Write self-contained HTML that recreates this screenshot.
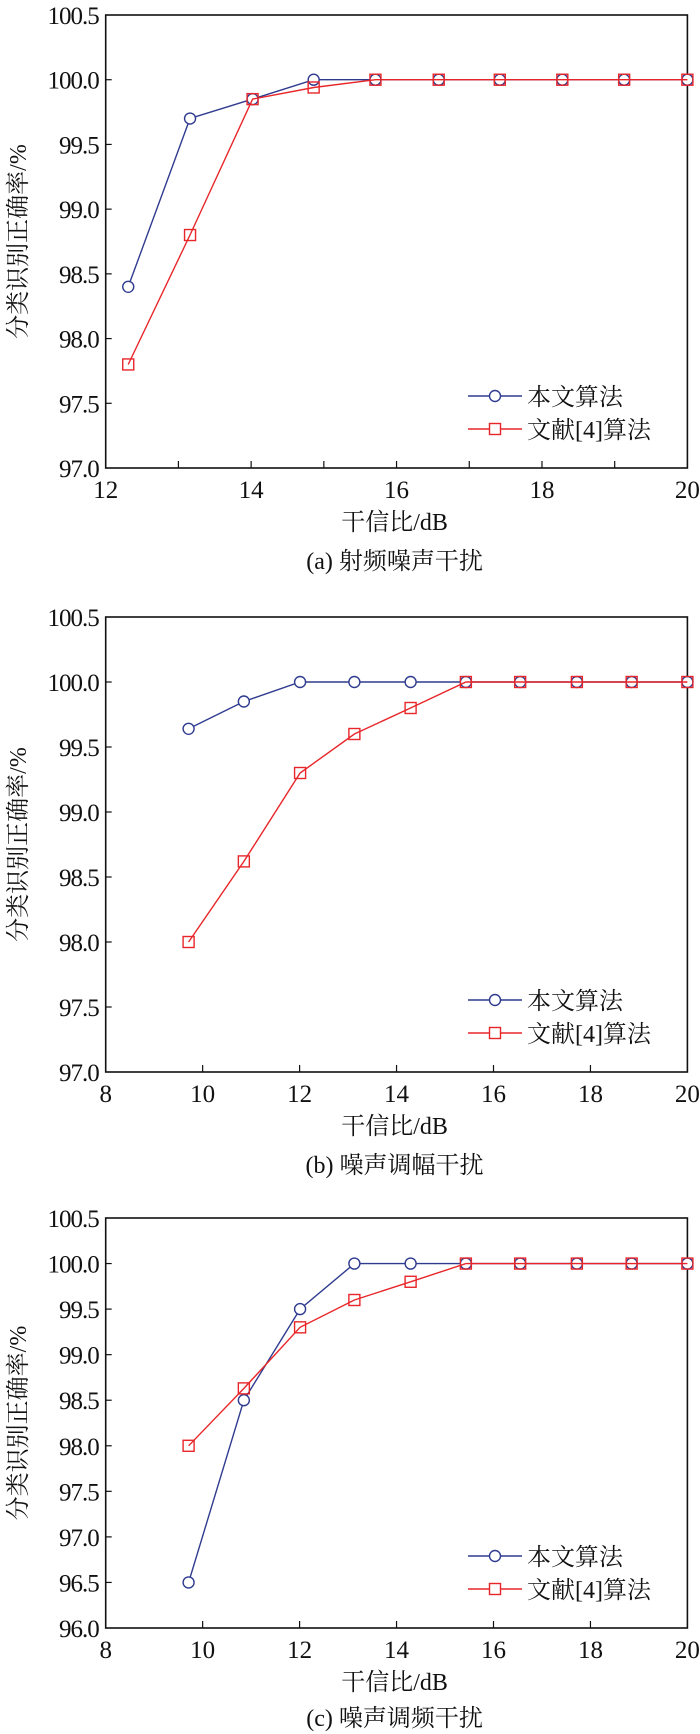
<!DOCTYPE html>
<html><head><meta charset="utf-8"><style>
html,body{margin:0;padding:0;background:#fff;}
svg{display:block;}
text{font-family:"Liberation Serif","Noto Serif CJK SC","Noto Sans CJK SC",serif;fill:#111;}
</style></head><body>
<svg id="fig" width="700" height="1734" viewBox="0 0 700 1734" xmlns="http://www.w3.org/2000/svg"></svg>
<script>
// Chart (a) data
const xA = [12.31, 13.16, 14.02, 14.86, 15.71, 16.58, 17.42, 18.28, 19.13, 20];
const blueA = [98.4, 99.7, 99.85, 100, 100, 100, 100, 100, 100, 100];
const redA = [97.8, 98.8, 99.85, 99.94, 100, 100, 100, 100, 100, 100];
const xTicksA = [12, 14, 16, 18, 20];
const yTicksA = [97.0, 97.5, 98.0, 98.5, 99.0, 99.5, 100.0, 100.5];
// Chart (b) data
const xB = [9.71, 10.85, 12.01, 13.13, 14.29, 15.43, 16.55, 17.72, 18.85, 20];
const blueB = [99.64, 99.85, 100, 100, 100, 100, 100, 100, 100, 100];
const redB = [98.0, 98.62, 99.3, 99.6, 99.8, 100, 100, 100, 100, 100];
const xTicksB = [8, 10, 12, 14, 16, 18, 20];
const yTicksB = [97.0, 97.5, 98.0, 98.5, 99.0, 99.5, 100.0, 100.5];
// Chart (c) data
const xC = [9.71, 10.85, 12.01, 13.13, 14.29, 15.43, 16.55, 17.72, 18.85, 20];
const blueC = [96.5, 98.5, 99.5, 100, 100, 100, 100, 100, 100, 100];
const redC = [98.0, 98.63, 99.3, 99.6, 99.8, 100, 100, 100, 100, 100];
const xTicksC = [8, 10, 12, 14, 16, 18, 20];
const yTicksC = [96.0, 96.5, 97.0, 97.5, 98.0, 98.5, 99.0, 99.5, 100.0, 100.5];
const seriesNames = ["本文算法", "文献[4]算法"];
const captions = ["(a) 射频噪声干扰", "(b) 噪声调幅干扰", "(c) 噪声调频干扰"];

const NS = "http://www.w3.org/2000/svg";
const svg = document.getElementById("fig");
const BLUE = "#2f3b8f", RED = "#e8262a";
function mk(tag, attrs, parent) {
  const e = document.createElementNS(NS, tag);
  for (const k in attrs) e.setAttribute(k, attrs[k]);
  (parent || svg).appendChild(e);
  return e;
}
function chart(id, top, bottom, xs, blue, red, xTicks, yTicks, minorX, caption) {
  const L = 105.7, R = 687.4;
  const g = mk("g", {});
  
  
  const xMin = xTicks[0], xMax = xTicks[xTicks.length - 1];
  const yMin = yTicks[0], yMax = yTicks[yTicks.length - 1];
  const sx = v => L + (v - xMin) / (xMax - xMin) * (R - L);
  const sy = v => bottom - (v - yMin) / (yMax - yMin) * (bottom - top);
  const fr = mk("rect", {x: L, y: top, width: R - L, height: bottom - top, fill: "none", stroke: "#111", "stroke-width": 1.6}, g);
  
  
  const step = minorX ? 1 : 2;
  for (let v = xMin + step; v < xMax; v += step) {
    mk("line", {x1: sx(v), x2: sx(v), y1: bottom, y2: bottom - 7, stroke: "#111", "stroke-width": 1.2}, g);
  }
  xTicks.forEach(v => {
    const t = mk("text", {x: sx(v), y: bottom + 30, "font-size": 25, "text-anchor": "middle"}, g);
    t.textContent = String(v);
    
    
  });
  yTicks.forEach(v => {
    if (v > yMin && v < yMax) mk("line", {x1: L, x2: L + 6, y1: sy(v), y2: sy(v), stroke: "#111", "stroke-width": 1.2}, g);
    const t = mk("text", {x: L - 7, y: sy(v) + 9, "font-size": 25, "text-anchor": "end", "letter-spacing": "-1"}, g);
    t.textContent = v.toFixed(1);
    
    
  });
  const xt = mk("text", {x: (L + R) / 2 - 2, y: bottom + 62, "font-size": 24, "text-anchor": "middle"}, g);
  xt.textContent = "干信比/dB";
  
  
  const cy = (top + bottom) / 2;
  const yt = mk("text", {x: 0, y: 0, "font-size": 24, "text-anchor": "middle", transform: `translate(26,${cy}) rotate(-90)`}, g);
  yt.textContent = "分类识别正确率/%";
  
  
  const cap = mk("text", {x: (L + R) / 2 - 2, y: bottom + (id === 'c' ? 98 : 101), "font-size": 24, "text-anchor": "middle"}, g);
  cap.textContent = caption;
  
  
  function series(vals, color, marker, name) {
    const pts = xs.map((x, i) => sx(x).toFixed(1) + "," + sy(vals[i]).toFixed(1)).join(" ");
    const pl = mk("polyline", {points: pts, fill: "none", stroke: color, "stroke-width": 1.4}, g);
    
    
    xs.forEach((x, i) => {
      let m;
      if (marker === "c") m = mk("circle", {cx: sx(x), cy: sy(vals[i]), r: 5.5, fill: "#fff", stroke: color, "stroke-width": 1.4}, g);
      else m = mk("rect", {x: sx(x) - 5.5, y: sy(vals[i]) - 5.5, width: 11, height: 11, fill: "none", stroke: color, "stroke-width": 1.4}, g);
      
      
    });
  }
  series(blue, BLUE, "c", "proposed");
  series(red, RED, "s", "ref4");
  const rows = [[bottom - 72, BLUE, "c", seriesNames[0]], [bottom - 39, RED, "s", seriesNames[1]]];
  rows.forEach(([y, c, m, name], i) => {
    const lg = mk("g", {}, g);
    
    
    mk("line", {x1: 468, x2: 522, y1: y, y2: y, stroke: c, "stroke-width": 1.4}, lg);
    if (m === "c") mk("circle", {cx: 495, cy: y, r: 5.5, fill: "#fff", stroke: c, "stroke-width": 1.4}, lg);
    else mk("rect", {x: 489.5, y: y - 5.5, width: 11, height: 11, fill: "#fff", stroke: c, "stroke-width": 1.4}, lg);
    const t = mk("text", {x: 527, y: y + 9, "font-size": 24}, lg);
    t.textContent = name;
  });
}
chart('a', 15, 468, xA, blueA, redA, xTicksA, yTicksA, true, captions[0]);
chart('b', 617, 1072, xB, blueB, redB, xTicksB, yTicksB, false, captions[1]);
chart('c', 1218, 1628, xC, blueC, redC, xTicksC, yTicksC, false, captions[2]);
</script>
</body></html>
